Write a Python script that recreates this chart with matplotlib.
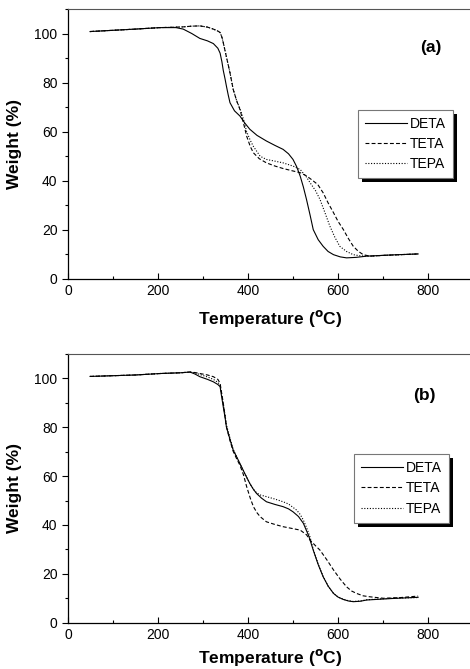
import matplotlib
matplotlib.use("Agg")
import matplotlib.pyplot as plt
from matplotlib.patches import Rectangle
from matplotlib.ticker import MultipleLocator

plt.rcParams['font.family'] = ['Liberation Sans', 'DejaVu Sans']

# panel (a)
a_deta_x = [49, 150, 204, 240, 256, 275, 293, 310, 323, 333, 338, 342, 345, 349, 352, 356, 360, 370, 382, 393, 404, 420, 441, 460, 478, 490, 500, 508, 516, 523, 530, 538, 545, 556, 567, 578, 590, 605, 619, 640, 664, 720, 778]
a_deta_y = [100.8, 101.8, 102.4, 102.4, 101.8, 100.0, 98.0, 97.0, 95.9, 94.0, 92.0, 88.5, 85.0, 81.5, 78.6, 75.0, 71.8, 68.5, 66.4, 63.5, 61.0, 58.5, 56.2, 54.4, 52.8, 51.0, 48.7, 45.8, 41.9, 37.5, 32.4, 26.0, 20.1, 16.0, 13.3, 11.2, 9.9, 9.0, 8.6, 8.8, 9.3, 9.8, 10.2]
a_teta_x = [49, 150, 204, 240, 256, 275, 293, 310, 323, 333, 338, 342, 345, 352, 360, 367, 375, 382, 390, 397, 405, 412, 425, 441, 460, 478, 500, 516, 530, 541, 555, 567, 578, 590, 600, 612, 623, 634, 645, 656, 671, 700, 778]
a_teta_y = [100.8, 101.8, 102.4, 102.6, 102.7, 103.0, 103.1, 102.6, 101.8, 101.0, 100.4, 98.5, 96.3, 90.5, 84.0, 77.3, 72.5, 69.1, 63.5, 58.2, 54.0, 51.4, 49.0, 47.3, 46.0, 45.0, 44.0, 43.3, 42.0, 40.5, 38.5, 35.1, 31.0, 27.0, 23.5, 20.1, 16.5, 13.3, 11.3, 9.9, 9.3, 9.6, 10.2]
a_tepa_x = [49, 150, 204, 240, 256, 275, 293, 310, 323, 333, 338, 342, 345, 352, 360, 367, 375, 382, 390, 397, 405, 412, 427, 441, 460, 478, 500, 516, 530, 538, 550, 560, 571, 582, 593, 604, 619, 634, 650, 671, 700, 778]
a_tepa_y = [100.8, 101.8, 102.4, 102.6, 102.7, 103.0, 103.1, 102.6, 101.8, 101.0, 100.4, 98.5, 96.3, 90.5, 84.0, 77.3, 72.5, 69.5, 65.0, 60.0, 56.5, 54.0, 50.0, 48.7, 48.0, 47.3, 46.0, 44.6, 41.5, 39.2, 36.0, 32.4, 27.0, 21.5, 17.0, 13.3, 11.2, 9.9, 9.4, 9.3, 9.6, 10.2]

# panel (b)
b_deta_x = [49, 150, 205, 250, 271, 282, 293, 310, 323, 333, 338, 341, 345, 349, 352, 360, 367, 375, 382, 393, 404, 412, 419, 430, 441, 460, 478, 490, 500, 512, 523, 535, 545, 556, 567, 578, 590, 600, 612, 623, 634, 650, 664, 720, 778]
b_deta_y = [100.8, 101.4, 102.0, 102.3, 102.6, 101.8, 100.7, 99.6, 98.6, 97.5, 96.6, 93.0, 88.4, 84.0, 80.2, 75.0, 70.7, 67.8, 65.2, 61.0, 57.0, 54.6, 52.9, 51.0, 49.5, 48.4, 47.5, 46.6, 45.4, 43.5, 40.7, 35.5, 29.7, 23.8, 18.8, 15.0, 12.0, 10.5, 9.5, 8.9, 8.6, 8.8, 9.3, 9.9, 10.4]
b_teta_x = [49, 150, 205, 250, 271, 282, 293, 310, 323, 333, 338, 341, 345, 349, 352, 360, 367, 375, 382, 390, 397, 405, 412, 420, 427, 441, 460, 478, 500, 516, 530, 538, 550, 560, 575, 590, 605, 619, 630, 641, 656, 671, 701, 740, 778]
b_teta_y = [100.8, 101.4, 102.0, 102.3, 102.6, 102.4, 102.0, 101.4, 100.7, 99.6, 98.0, 94.5, 90.0, 84.5, 80.2, 74.5, 70.2, 67.0, 64.5, 60.5, 55.7, 51.0, 47.5, 45.0, 43.4, 41.3, 40.2, 39.3, 38.5, 37.9, 36.0, 33.8, 31.5, 29.7, 25.8, 21.6, 17.8, 14.7, 13.0, 12.0, 11.0, 10.6, 10.0, 10.3, 10.9]
b_tepa_x = [49, 150, 205, 250, 271, 282, 293, 310, 323, 333, 338, 341, 345, 349, 352, 360, 367, 375, 382, 393, 404, 412, 419, 427, 441, 460, 478, 490, 508, 516, 523, 530, 538, 545, 556, 567, 578, 590, 600, 612, 623, 634, 650, 664, 720, 778]
b_tepa_y = [100.8, 101.4, 102.0, 102.3, 102.6, 102.3, 101.6, 100.6, 99.6, 98.4, 97.2, 94.0, 89.5, 85.0, 81.0, 75.5, 71.0, 67.8, 65.0, 61.0, 57.0, 54.6, 53.2, 52.3, 51.6, 50.6, 49.5, 48.6, 46.1, 44.3, 42.0, 39.0, 35.0, 30.0, 24.0, 19.0, 15.0, 12.0, 10.5, 9.6, 9.0, 8.7, 8.9, 9.4, 10.0, 10.3]

labels = ['DETA', 'TETA', 'TEPA']
styles = ['-', (0, (3.5, 2)), (0, (1, 1.5))]
panels = [
    ('(a)', (807, 94.3), 0.70, 7, [(a_deta_x, a_deta_y), (a_teta_x, a_teta_y), (a_tepa_x, a_tepa_y)]),
    ('(b)', (793, 92.9), 0.69, 4, [(b_deta_x, b_deta_y), (b_teta_x, b_teta_y), (b_tepa_x, b_tepa_y)]),
]

fig = plt.figure(figsize=(4.70, 6.69), dpi=100)
rects = [[68/470, 0.583, 405/470, 0.4036], [68/470, 0.0692, 405/470, 0.4017]]

legends = []
for rect, (tag, tagpos, legx, xpad, series) in zip(rects, panels):
    ax = fig.add_axes(rect)
    for (xs, ys), lab, ls in zip(series, labels, styles):
        ax.plot(xs, ys, color='black', lw=0.8, ls=ls, label=lab)
    ax.set_xlim(0, 900)
    ax.set_ylim(0, 110)
    ax.xaxis.set_major_locator(MultipleLocator(200))
    ax.xaxis.set_minor_locator(MultipleLocator(100))
    ax.yaxis.set_major_locator(MultipleLocator(20))
    ax.yaxis.set_minor_locator(MultipleLocator(10))
    ax.tick_params(axis='x', which='both', direction='in', labelsize=10, width=0.8)
    ax.tick_params(axis='y', which='both', direction='out', labelsize=10, width=0.8)
    ax.tick_params(which='major', length=4)
    ax.tick_params(which='minor', length=2)
    ax.spines['top'].set_linestyle((0, (1, 1)))
    ax.spines['top'].set_color('#555555')
    ax.spines['top'].set_linewidth(0.8)
    for s in ['left', 'bottom']:
        ax.spines[s].set_linewidth(0.9)
    ax.set_xlabel('Temperature ($\\mathbf{^{o}}$C)', fontsize=12.5, fontweight='bold', labelpad=xpad)
    ax.set_ylabel('Weight (%)', fontsize=12.5, fontweight='bold', labelpad=9)
    ax.text(tagpos[0], tagpos[1], tag, fontsize=12.5, fontweight='bold', ha='center', va='center')
    leg = ax.legend(loc='center left', bbox_to_anchor=(legx, 0.5),
                    fontsize=10, frameon=True, fancybox=False, edgecolor='#777777',
                    facecolor='white', framealpha=1.0,
                    handlelength=3.0, handletextpad=0.2, borderpad=0.5, labelspacing=0.45)
    leg.get_frame().set_linewidth(0.8)
    leg.set_zorder(6)
    legends.append((ax, leg))

# black drop shadow under each legend box
fig.canvas.draw()
for ax, leg in legends:
    bb = leg.get_window_extent()
    inv = ax.transAxes.inverted()
    x0, y0 = inv.transform((bb.x0 + 4, bb.y0 - 4))
    x1, y1 = inv.transform((bb.x1 + 4, bb.y1 - 4))
    ax.add_patch(Rectangle((x0, y0), x1 - x0, y1 - y0, transform=ax.transAxes,
                           facecolor='black', edgecolor='none', zorder=5, clip_on=False))

fig.savefig('out.png', dpi=100)
